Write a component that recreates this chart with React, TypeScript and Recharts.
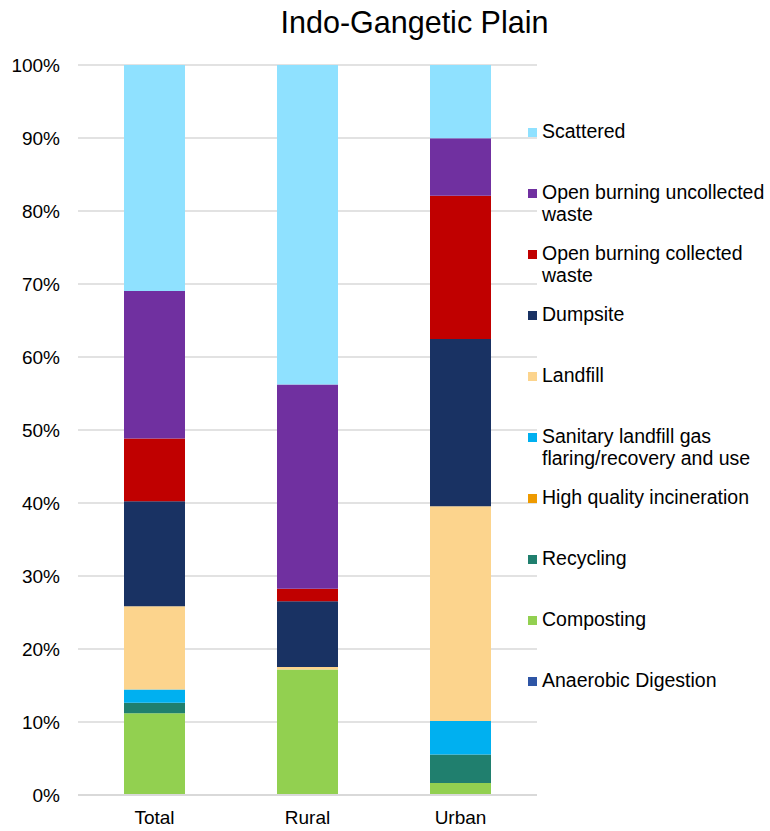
import React from 'react'
import { BarChart, Bar, XAxis, YAxis, CartesianGrid, Legend } from 'recharts'

// Share of municipal solid waste by treatment route, in percent
const categories = ['Total', 'Rural', 'Urban']
const anaerobicDigestion = [0, 0, 0]
const composting = [11.2, 17.2, 1.65]
const recycling = [1.45, 0, 3.9]
const highQualityIncineration = [0, 0, 0]
const sanitaryLandfill = [1.8, 0, 4.6]
const landfill = [11.4, 0.35, 29.4]
const dumpsite = [14.4, 9.0, 22.9]
const openBurningCollected = [8.6, 1.7, 19.65]
const openBurningUncollected = [20.2, 28.0, 7.85]
const scattered = [30.95, 43.75, 10.05]

const yTicks = [0, 0.1, 0.2, 0.3, 0.4, 0.5, 0.6, 0.7, 0.8, 0.9, 1]

// bottom of the stack first
const series = [
  { key: 'anaerobic', name: 'Anaerobic Digestion', color: '#2E55A5', values: anaerobicDigestion },
  { key: 'composting', name: 'Composting', color: '#92D050', values: composting },
  { key: 'recycling', name: 'Recycling', color: '#207F6E', values: recycling },
  { key: 'hqi', name: 'High quality incineration', color: '#EE9A00', values: highQualityIncineration },
  { key: 'sanitary', name: 'Sanitary landfill gas flaring/recovery and use', color: '#00B0F0', values: sanitaryLandfill },
  { key: 'landfill', name: 'Landfill', color: '#FCD48D', values: landfill },
  { key: 'dumpsite', name: 'Dumpsite', color: '#193263', values: dumpsite },
  { key: 'obc', name: 'Open burning collected waste', color: '#C00000', values: openBurningCollected },
  { key: 'obu', name: 'Open burning uncollected waste', color: '#7030A0', values: openBurningUncollected },
  { key: 'scattered', name: 'Scattered', color: '#8FE1FF', values: scattered },
]

const data = categories.map((name, i) => {
  const row: Record<string, number | string> = { name }
  series.forEach((s) => {
    row[s.key] = s.values[i]
  })
  return row
})

const FONT = 'Arial, "Liberation Sans", sans-serif'

function LegendList() {
  return (
    <div style={{ fontFamily: FONT, fontSize: 19.5, lineHeight: '22px', color: '#000' }}>
      {[...series].reverse().map((s) => (
        <div key={s.key} style={{ position: 'relative', height: 61 }}>
          <span
            style={{ position: 'absolute', left: 0, top: 8.5, width: 9, height: 9, background: s.color }}
          />
          <div style={{ marginLeft: 14, width: 228 }}>{s.name}</div>
        </div>
      ))}
    </div>
  )
}

export default function App() {
  return (
    <div style={{ position: 'absolute', left: 0, top: 0, width: 770, height: 831, background: '#fff' }}>
      <div
        style={{
          position: 'absolute',
          left: 0,
          top: 6.5,
          width: 829,
          textAlign: 'center',
          fontFamily: FONT,
          fontSize: 30.5,
          lineHeight: 1,
          color: '#000',
          zIndex: 1,
        }}
      >
        Indo-Gangetic Plain
      </div>
      <BarChart
        width={770}
        height={831}
        data={data}
        stackOffset="expand"
        barSize={61}
        margin={{ top: 65, right: 233, left: 0, bottom: 0 }}
      >
        <CartesianGrid vertical={false} stroke="#D9D9D9" strokeWidth={1.3} />
        <XAxis
          dataKey="name"
          height={36}
          axisLine={{ stroke: '#D9D9D9', strokeWidth: 2 }}
          tickLine={false}
          tickSize={0}
          tickMargin={16}
          tick={{ fill: '#000', fontSize: 19, fontFamily: FONT }}
        />
        <YAxis
          width={78}
          domain={[0, 1]}
          ticks={yTicks}
          axisLine={false}
          tickLine={false}
          tickSize={0}
          tickMargin={18}
          tickFormatter={(v: number) => `${Math.round(v * 100)}%`}
          tick={{ fill: '#000', fontSize: 19, fontFamily: FONT }}
        />
        <Legend
          layout="vertical"
          align="center"
          verticalAlign="middle"
          content={() => <LegendList />}
          wrapperStyle={{ left: 528, top: 119.5, width: 242 }}
        />
        {series.map((s) => (
          <Bar key={s.key} dataKey={s.key} name={s.name} stackId="a" fill={s.color} isAnimationActive={false} />
        ))}
      </BarChart>
    </div>
  )
}
